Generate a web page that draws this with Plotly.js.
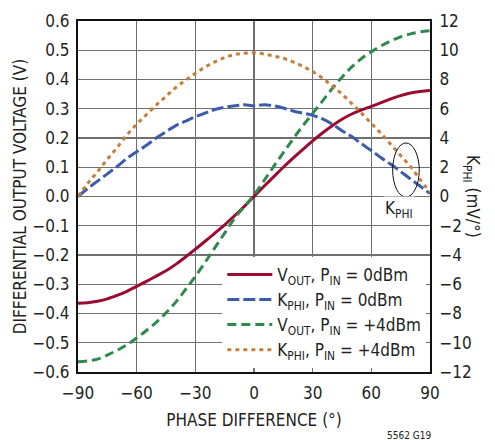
<!DOCTYPE html>
<html>
<head>
<meta charset="utf-8">
<script src="https://cdn.plot.ly/plotly-3.0.1.min.js"></script>
<style>html,body{margin:0;padding:0;background:#fff;}#chart{width:495px;height:440px;}</style>
</head>
<body>
<div id="chart"></div>
<script>
// Phase difference (degrees)
const phase = [-90,-85,-80,-75,-70,-65,-60,-55,-50,-45,-40,-35,-30,-25,-20,-15,-10,-5,0,5,10,15,20,25,30,35,40,45,50,55,60,65,70,75,80,85,90];
// VOUT, PIN = 0dBm (V)
const vout0 = [-0.365,-0.363,-0.358,-0.350,-0.338,-0.324,-0.307,-0.290,-0.272,-0.254,-0.232,-0.207,-0.180,-0.153,-0.125,-0.097,-0.066,-0.034,0.000,0.034,0.067,0.100,0.131,0.161,0.190,0.217,0.242,0.264,0.282,0.296,0.308,0.321,0.334,0.345,0.354,0.359,0.362];
// KPHI, PIN = 0dBm (mV/deg)
const kphi0 = [0.0,0.55,1.05,1.55,2.05,2.6,3.06,3.5,4.0,4.43,4.85,5.15,5.45,5.7,5.95,6.1,6.2,6.28,6.2,6.28,6.2,6.05,5.85,5.7,5.55,5.3,4.95,4.5,4.1,3.6,3.15,2.65,2.2,1.7,1.2,0.7,0.2];
// VOUT, PIN = +4dBm (V)
const vout4 = [-0.565,-0.562,-0.556,-0.542,-0.526,-0.507,-0.484,-0.458,-0.430,-0.398,-0.361,-0.318,-0.273,-0.225,-0.175,-0.125,-0.075,-0.035,0.005,0.053,0.102,0.150,0.197,0.242,0.284,0.326,0.369,0.408,0.443,0.472,0.495,0.515,0.532,0.546,0.556,0.563,0.567];
// KPHI, PIN = +4dBm (mV/deg)
const kphi4 = [0.0,0.9,1.7,2.55,3.35,4.2,4.95,5.6,6.25,6.85,7.45,7.95,8.42,8.85,9.2,9.5,9.7,9.8,9.82,9.75,9.6,9.45,9.2,8.9,8.55,8.1,7.55,7.0,6.35,5.7,5.0,4.3,3.55,2.8,2.05,1.15,0.3];

const xTicks = [-90,-60,-30,0,30,60,90];
const yTicks = [-0.6,-0.5,-0.4,-0.3,-0.2,-0.1,0,0.1,0.2,0.3,0.4,0.5,0.6];
const y2Ticks = [-12,-10,-8,-6,-4,-2,0,2,4,6,8,10,12];

const FONT = '"Liberation Sans Narrow","Arial Narrow","DejaVu Sans Condensed",sans-serif';
const GRID = '#707070';

const traces = [
  {x: phase, y: vout0, name: 'V<sub>OUT</sub>, P<sub>IN</sub> = 0dBm', mode: 'lines',
   line: {color: '#9b0a30', width: 3, shape: 'spline'}},
  {x: phase, y: kphi0, name: 'K<sub>PHI</sub>, P<sub>IN</sub> = 0dBm', mode: 'lines', yaxis: 'y2',
   line: {color: '#3b5bab', width: 3, dash: '12px,4px', shape: 'spline'}},
  {x: phase, y: vout4, name: 'V<sub>OUT</sub>, P<sub>IN</sub> = +4dBm', mode: 'lines',
   line: {color: '#2e8a4c', width: 3, dash: '9px,5px', shape: 'spline'}},
  {x: phase, y: kphi4, name: 'K<sub>PHI</sub>, P<sub>IN</sub> = +4dBm', mode: 'lines', yaxis: 'y2',
   line: {color: '#c47f3a', width: 3, dash: '4px,4px', shape: 'spline'}}
];

const layout = {
  width: 495, height: 440,
  margin: {l: 78, r: 65, t: 21, b: 68},
  paper_bgcolor: '#fff', plot_bgcolor: '#fff',
  font: {family: FONT, size: 17, color: '#231f20'},
  showlegend: true,
  legend: {x: 0.41, y: 0.328, xanchor: 'left', yanchor: 'top', bgcolor: '#fff',
           font: {family: FONT, size: 17, color: '#231f20'}, tracegroupgap: 0, itemwidth: 45},
  xaxis: {range: [-90, 90], tickvals: xTicks, ticktext: xTicks.map(v => v < 0 ? '\u2212' + (-v) : String(v)),
          showgrid: true, gridcolor: GRID, gridwidth: 1.3, zeroline: false,
          showline: true, linecolor: '#111', linewidth: 2, mirror: true, ticks: '',
          tickfont: {size: 17}, ticklabelstandoff: 5,
          title: {text: 'PHASE DIFFERENCE (°)', font: {size: 17}, standoff: 12}},
  yaxis: {range: [-0.6, 0.6], tickvals: yTicks, ticktext: yTicks.map(v => (v < 0 ? '\u2212' : '') + Math.abs(v).toFixed(1)),
          showgrid: true, gridcolor: GRID, gridwidth: 1.3, zeroline: false,
          showline: true, linecolor: '#111', linewidth: 2, ticks: '',
          tickfont: {size: 17}, ticklabelstandoff: 3,
          title: {text: 'DIFFERENTIAL OUTPUT VOLTAGE (V)', font: {size: 17}, standoff: 2}},
  yaxis2: {range: [-12, 12], overlaying: 'y', side: 'right', tickvals: y2Ticks,
           ticktext: y2Ticks.map(v => v < 0 ? '\u2212' + (-v) : String(v)),
           showgrid: false, zeroline: false, showline: true, linecolor: '#111', linewidth: 2, ticks: '',
           tickfont: {size: 17}, ticklabelstandoff: 4},
  shapes: [
    {type: 'circle', xref: 'x', yref: 'y', x0: 70.9, x1: 84.5, y0: -0.002, y1: 0.183,
     line: {color: '#111', width: 1}}
  ],
  annotations: [
    {xref: 'x', yref: 'y', x: 74.1, y: -0.043, text: 'K<sub>PHI</sub>', showarrow: false,
     bgcolor: '#fff', font: {size: 17}},
    {xref: 'paper', yref: 'paper', x: 1.118, y: 0.5, xanchor: 'center', yanchor: 'middle',
     text: 'K<sub>PHI</sub> (mV/°)', showarrow: false, textangle: 90, font: {size: 17}},
    {xref: 'paper', yref: 'paper', x: 0.94, y: -0.18, xanchor: 'center', yanchor: 'middle',
     text: '5562 G19', showarrow: false, font: {size: 10}}
  ]
};

Plotly.newPlot('chart', traces, layout, {displayModeBar: false, staticPlot: true});
</script>
</body>
</html>
